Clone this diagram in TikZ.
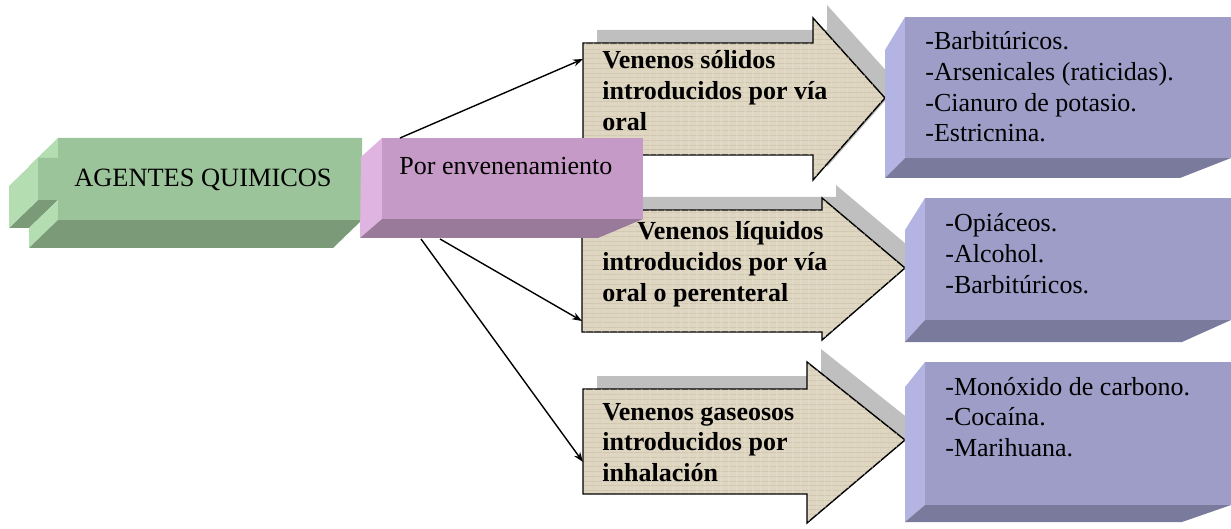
\documentclass[tikz,border=0pt]{standalone}
\usepackage{fontspec}
\setmainfont{Liberation Serif}
\usetikzlibrary{arrows.meta,patterns.meta}
\definecolor{gfront}{HTML}{9CC49A}
\definecolor{glight}{HTML}{B4DEB2}
\definecolor{gdark}{HTML}{7A9A78}
\definecolor{pfront}{HTML}{C69AC6}
\definecolor{plight}{HTML}{E0B4E0}
\definecolor{pdark}{HTML}{9A7A9A}
\definecolor{vfront}{HTML}{9E9DC8}
\definecolor{vlight}{HTML}{B4B4E2}
\definecolor{vdark}{HTML}{7A7A9C}
\definecolor{shadowgray}{HTML}{BFBFBF}
\definecolor{beige}{HTML}{DFD6C2}
\definecolor{beigeline}{HTML}{D2C8B1}
\begin{document}
\begin{tikzpicture}[x=0.5pt,y=-0.5pt,
  conn/.style={line width=0.7pt,-{Stealth[length=5pt,width=3.6pt]}},
  arrowbody/.style={preaction={fill=beige},
    preaction={pattern={Lines[angle=0,distance=2.4pt,line width=0.45pt]},pattern color=beigeline},
    postaction={pattern={Lines[angle=90,distance=4pt,line width=0.35pt]},pattern color=beigeline!70!beige},
    draw=black,line width=0.7pt,line join=miter},
  arrowshadow/.style={fill=shadowgray},
  regtext/.style={anchor=base west,inner sep=0pt,font=\fontsize{13}{15.3}\selectfont},
  boldtext/.style={anchor=base west,inner sep=0pt,font=\fontsize{13}{15.4}\selectfont\bfseries}]
\useasboundingbox (0,0) rectangle (1231,529);

% ---- arrow shadows
\begin{scope}[shift={(14,-13)}]
\fill[arrowshadow] (583,43) -- (813,43) -- (813,18) -- (885,98) -- (813,180) -- (813,155) -- (583,155) -- cycle;
\fill[arrowshadow] (582,210) -- (822,210) -- (822,198) -- (905,268) -- (822,340) -- (822,332) -- (582,332) -- cycle;
\fill[arrowshadow] (583,389) -- (807,389) -- (807,362) -- (905,440) -- (807,523) -- (807,494) -- (583,494) -- cycle;
\end{scope}
% ---- arrows
\path[arrowbody] (583,43) -- (813,43) -- (813,18) -- (885,98) -- (813,180) -- (813,155) -- (583,155) -- cycle;
\path[arrowbody] (582,210) -- (822,210) -- (822,198) -- (905,268) -- (822,340) -- (822,332) -- (582,332) -- cycle;
\path[arrowbody] (583,389) -- (807,389) -- (807,362) -- (905,440) -- (807,523) -- (807,494) -- (583,494) -- cycle;

% ---- purple boxes
\fill[vlight] (905,17) -- (905,158) -- (885,178) -- (885,50) -- cycle;
\fill[vdark] (905,158) -- (1231,158) -- (1180,178) -- (885,178) -- cycle;
\fill[vfront] (905,17) rectangle (1231,158);

\fill[vlight] (925,198) -- (925,320) -- (905,342) -- (905,230) -- cycle;
\fill[vdark] (925,320) -- (1231,320) -- (1182,342) -- (905,342) -- cycle;
\fill[vfront] (925,198) rectangle (1231,320);

\fill[vlight] (925,362) -- (925,505) -- (905,522) -- (905,387) -- cycle;
\fill[vdark] (925,505) -- (1231,505) -- (1182,522) -- (905,522) -- cycle;
\fill[vfront] (925,362) rectangle (1231,505);

% ---- green cross block
\fill[glight] (58,138) -- (58,158) -- (29,186) -- (29,166) -- cycle;
\fill[gdark] (38,200) -- (58,200) -- (29,228) -- (9,228) -- cycle;
\fill[glight] (58,200) -- (58,220) -- (29,248) -- (29,228) -- cycle;
\fill[glight] (38,158) -- (38,200) -- (9,228) -- (9,186) -- cycle;
\fill[gdark] (362,200) -- (381,200) -- (352,228) -- (333,228) -- cycle;
\fill[gdark] (58,220) -- (362,220) -- (333,248) -- (29,248) -- cycle;
\fill[gfront] (58,138) -- (362,138) -- (362,158) -- (381,158) -- (381,200) -- (362,200)
  -- (362,220) -- (58,220) -- (58,200) -- (38,200) -- (38,158) -- (58,158) -- cycle;

% ---- pink block
\fill[plight] (382,138) -- (382,219) -- (360,238) -- (361,157) -- cycle;
\fill[pdark] (382,219) -- (643,219) -- (598,238) -- (360,238) -- cycle;
\fill[pfront] (382,138) rectangle (643,219);

% ---- connectors
\coordinate (pinkA) at (400,138);
\coordinate (pinkB) at (440,239);
\coordinate (pinkC) at (421,239);
\coordinate (arrA) at (583,59);
\coordinate (arrB) at (582,321);
\coordinate (arrC) at (583,462);
\draw[conn] (pinkA) -- (arrA);
\draw[conn] (pinkB) -- (arrB);
\draw[conn] (pinkC) -- (arrC);

% ---- texts
\node[anchor=base,inner sep=0pt,font=\fontsize{13.2}{15.3}\selectfont] (agentes) at (203,187) {AGENTES QUIMICOS};
\node[regtext] (por) at (399,175) {Por envenenamiento};

\node[boldtext] (t1) at (602,69) {\begin{tabular}[t]{@{}l@{}}Venenos sólidos\\introducidos por vía\\oral\end{tabular}};
\node[boldtext] (t2) at (602,240) {\begin{tabular}[t]{@{}l@{}}\hspace*{17.5pt}Venenos líquidos\\introducidos por vía\\oral o perenteral\end{tabular}};
\node[boldtext] (t3) at (602,420) {\begin{tabular}[t]{@{}l@{}}Venenos gaseosos\\introducidos por\\inhalación\end{tabular}};

\node[regtext] (l1) at (925,50) {\begin{tabular}[t]{@{}l@{}}-Barbitúricos.\\-Arsenicales (raticidas).\\-Cianuro de potasio.\\-Estricnina.\end{tabular}};
\node[regtext] (l2) at (945,232) {\begin{tabular}[t]{@{}l@{}}-Opiáceos.\\-Alcohol.\\-Barbitúricos.\end{tabular}};
\node[regtext] (l3) at (945,395) {\begin{tabular}[t]{@{}l@{}}-Monóxido de carbono.\\-Cocaína.\\-Marihuana.\end{tabular}};
\end{tikzpicture}
\end{document}
